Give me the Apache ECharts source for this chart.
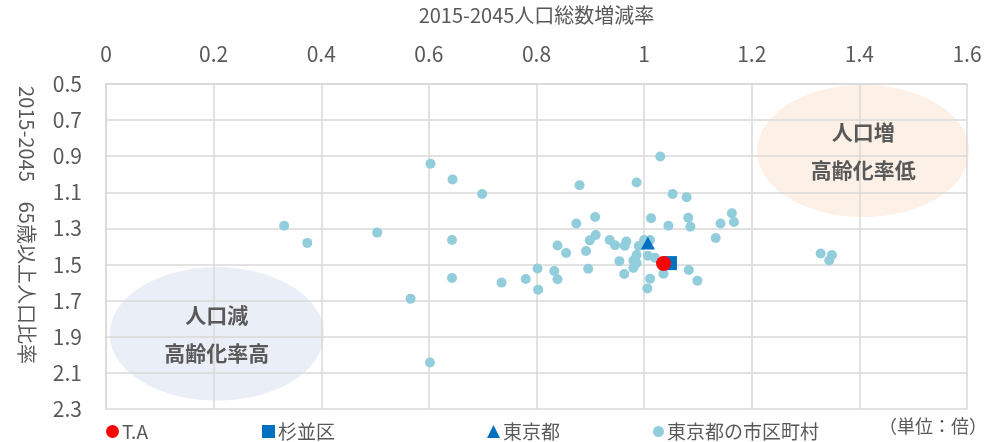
<!DOCTYPE html>
<html lang="ja">
<head>
<meta charset="utf-8">
<title>人口増減率と高齢化率</title>
<script src="https://cdn.jsdelivr.net/npm/echarts@6/dist/echarts.min.js"></script>
<style>
  html, body { margin: 0; padding: 0; background: #fff; }
  #chart { width: 999px; height: 442px; }
</style>
</head>
<body>
<div id="chart"></div>
<script>
const FONT = '"Noto Sans CJK JP", "Noto Sans", sans-serif'
const GRAY = '#595959'

// 個別ポイント [人口総数増減率, 65歳以上人口比率]
const taPoint = [1.036, 1.494]
const suginamiPoint = [1.048, 1.492]
const tokyoPoint = [1.007, 1.380]

// 東京都の市区町村
const muniX = [
  0.331, 0.374, 0.504, 0.566, 0.602, 0.603, 0.644, 0.643, 0.643, 0.699,
  0.735, 0.780, 0.802, 0.803, 0.833, 0.839, 0.839, 0.855, 0.874, 0.880,
  0.892, 0.896, 0.899, 0.910, 0.909, 0.936, 0.946, 0.964, 0.967, 0.954,
  0.963, 0.980, 0.986, 0.986, 0.980, 0.986, 0.990, 1.000, 1.011, 1.007,
  1.020, 1.011, 1.006, 1.013, 1.030, 1.036, 1.045, 1.053, 1.079, 1.082,
  1.086, 1.083, 1.099, 1.133, 1.142, 1.163, 1.167, 1.328, 1.349, 1.344
]
const muniY = [
  1.285, 1.380, 1.323, 1.690, 2.042, 0.942, 1.029, 1.364, 1.574, 1.109,
  1.600, 1.580, 1.522, 1.639, 1.536, 1.581, 1.394, 1.436, 1.273, 1.061,
  1.425, 1.523, 1.366, 1.336, 1.237, 1.364, 1.393, 1.396, 1.372, 1.481,
  1.552, 1.478, 1.447, 1.492, 1.519, 1.046, 1.397, 1.364, 1.364, 1.451,
  1.462, 1.578, 1.632, 1.244, 0.902, 1.551, 1.285, 1.109, 1.127, 1.241,
  1.291, 1.530, 1.589, 1.353, 1.273, 1.216, 1.264, 1.439, 1.447, 1.478
]

// 注記の楕円（データ座標）
const notes = [
  { cx: 1.407, cy: 0.871, rx: 0.197, ry: 0.366, fill: 'rgba(251,227,207,0.5)', lines: ['人口増', '高齢化率低'] },
  { cx: 0.206, cy: 1.884, rx: 0.199, ry: 0.369, fill: 'rgba(214,224,240,0.5)', lines: ['人口減', '高齢化率高'] }
]

const chart = echarts.init(document.getElementById('chart'))

const legendBase = {
  top: 417,
  itemWidth: 13,
  itemHeight: 13,
  textStyle: { fontFamily: FONT, fontSize: 19, color: GRAY, padding: [0, 0, 0, -2] },
  selectedMode: false
}

chart.setOption({
  backgroundColor: '#fff',
  animation: false,
  grid: { left: 106, right: 32, top: 72, bottom: 33 },
  xAxis: {
    type: 'value',
    position: 'top',
    min: 0,
    max: 1.6,
    interval: 0.2,
    name: '2015-2045人口総数増減率',
    nameLocation: 'middle',
    nameGap: 59,
    nameTextStyle: { fontFamily: FONT, fontSize: 20, color: GRAY },
    axisLine: { show: true, lineStyle: { color: '#D9D9D9', width: 1.5 } },
    axisTick: { show: false },
    axisLabel: {
      margin: 19,
      fontFamily: FONT,
      fontSize: 21,
      color: GRAY,
      formatter: v => String(+v.toFixed(1))
    },
    splitLine: { show: true, lineStyle: { color: '#D9D9D9', width: 1.5 } }
  },
  yAxis: {
    type: 'value',
    inverse: true,
    min: 0.5,
    max: 2.3,
    interval: 0.2,
    axisLine: { show: true, lineStyle: { color: '#D9D9D9', width: 1.5 } },
    axisTick: { show: false },
    axisLabel: {
      margin: 24,
      fontFamily: FONT,
      fontSize: 21,
      color: GRAY,
      formatter: v => v.toFixed(1)
    },
    splitLine: { show: true, lineStyle: { color: '#D9D9D9', width: 1.5 } }
  },
  legend: [
    { ...legendBase, left: 101, data: [{ name: 'T.A', icon: 'circle' }] },
    { ...legendBase, left: 257, data: [{ name: '杉並区', icon: 'rect' }] },
    { ...legendBase, left: 482, data: [{ name: '東京都', icon: 'triangle' }] },
    { ...legendBase, left: 648, itemWidth: 11, itemHeight: 11, data: [{ name: '東京都の市区町村', icon: 'circle' }] }
  ],
  series: [
    {
      name: '東京都の市区町村',
      type: 'scatter',
      symbol: 'circle',
      symbolSize: 10,
      itemStyle: { color: '#92CDDC', opacity: 1 },
      data: muniX.map((x, i) => [x, muniY[i]]),
      z: 2
    },
    {
      name: '東京都',
      type: 'scatter',
      symbol: 'triangle',
      symbolSize: [14, 13],
      itemStyle: { color: '#0070C0', opacity: 1 },
      data: [tokyoPoint],
      z: 3
    },
    {
      name: '杉並区',
      type: 'scatter',
      symbol: 'rect',
      symbolSize: 14,
      itemStyle: { color: '#0070C0', opacity: 1 },
      data: [suginamiPoint],
      z: 4
    },
    {
      name: 'T.A',
      type: 'scatter',
      symbol: 'circle',
      symbolSize: 15,
      itemStyle: { color: '#FF0000', opacity: 1 },
      data: [taPoint],
      z: 5
    }
  ]
})

// 楕円と注記、縦軸タイトル、単位
function drawNotes() {
  const elements = []
  notes.forEach(n => {
    const c = chart.convertToPixel({ gridIndex: 0 }, [n.cx, n.cy])
    const e = chart.convertToPixel({ gridIndex: 0 }, [n.cx + n.rx, n.cy + n.ry])
    const rx = Math.abs(e[0] - c[0])
    const ry = Math.abs(e[1] - c[1])
    elements.push({
      type: 'ellipse',
      z: -1,
      silent: true,
      shape: { cx: c[0], cy: c[1], rx, ry },
      style: { fill: n.fill }
    })
    n.lines.forEach((t, i) => {
      elements.push({
        type: 'text',
        z: 10,
        x: c[0],
        y: c[1] + (i === 0 ? -19 : 19),
        style: {
          text: t,
          fontFamily: FONT,
          fontSize: 21,
          fontWeight: 'bold',
          fill: GRAY,
          textAlign: 'center',
          textVerticalAlign: 'middle'
        }
      })
    })
  })
  elements.push({
    type: 'text',
    x: 27,
    y: 225,
    rotation: -Math.PI / 2,
    style: {
      text: '2015-2045　65歳以上人口比率',
      fontFamily: FONT,
      fontSize: 20,
      fill: GRAY,
      textAlign: 'center',
      textVerticalAlign: 'middle'
    }
  })
  elements.push({
    type: 'text',
    right: 12,
    top: 417,
    style: {
      text: '（単位：倍）',
      fontFamily: FONT,
      fontSize: 18,
      fill: GRAY
    }
  })
  chart.setOption({ graphic: elements })
}

drawNotes()
</script>
</body>
</html>
